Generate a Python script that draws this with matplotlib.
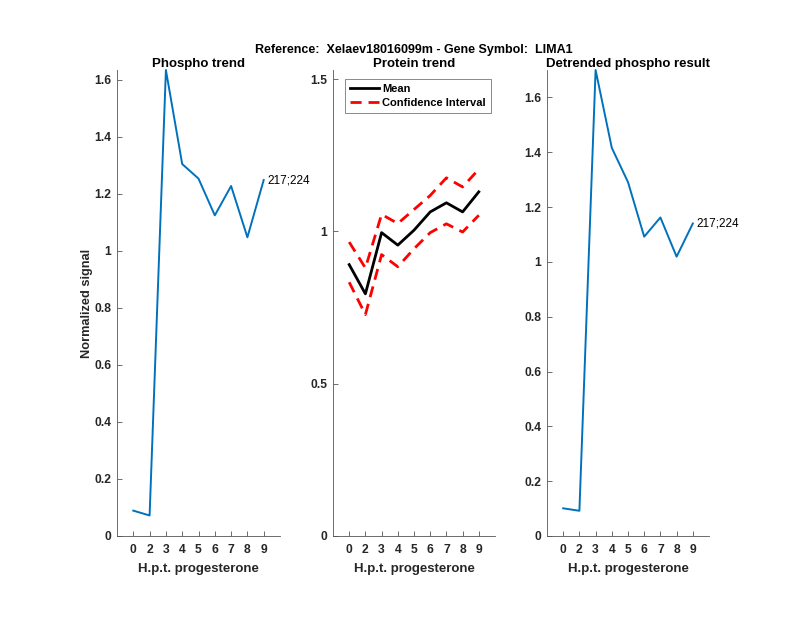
import matplotlib
matplotlib.use("Agg")
import matplotlib.pyplot as plt
import numpy as np

plt.rcParams['font.family'] = ['Liberation Sans', 'DejaVu Sans']

tick_labels = ['0', '2', '3', '4', '5', '6', '7', '8', '9']
phospho = [0.089, 0.072, 1.635, 1.305, 1.254, 1.125, 1.228, 1.048, 1.249]
protein_mean = [0.891, 0.795, 0.996, 0.955, 1.004, 1.064, 1.094, 1.064, 1.130]
protein_upper = [0.965, 0.880, 1.056, 1.026, 1.072, 1.118, 1.176, 1.146, 1.204]
protein_lower = [0.833, 0.727, 0.924, 0.884, 0.943, 0.996, 1.025, 0.998, 1.053]
detrended = [0.101, 0.092, 1.700, 1.416, 1.291, 1.092, 1.162, 1.019, 1.140]
site_label = '217;224'

blue = '#0072BD'
axc = '#262626'
spc = '#555555'

fig = plt.figure(figsize=(8, 6.18), dpi=100)
W, H = 800, 618
def ax_at(left, top=70, bottom=536, width=163):
    return fig.add_axes([left / W, (H - bottom) / H, width / W, (bottom - top) / H])

x = np.arange(1, len(tick_labels) + 1)

def style(ax, ylim, yticks, yticklabels):
    ax.set_xlim(0, 10)
    ax.set_ylim(*ylim)
    ax.set_xticks(x)
    ax.set_xticklabels(tick_labels)
    ax.set_yticks(yticks)
    ax.set_yticklabels(yticklabels)
    for s in ['top', 'right']:
        ax.spines[s].set_visible(False)
    for s in ['left', 'bottom']:
        ax.spines[s].set_color(spc)
        ax.spines[s].set_linewidth(0.6)
    ax.tick_params(direction='in', length=3.5, width=0.6, color=spc, labelcolor=axc,
                   labelsize=8.7, pad=4)
    ax.tick_params(axis='x', pad=6)
    for lab in ax.get_xticklabels() + ax.get_yticklabels():
        lab.set_fontweight('bold')
    ax.set_xlabel('H.p.t. progesterone', fontsize=9.5, fontweight='bold', color=axc, labelpad=5)

# Panel 1
ax1 = ax_at(117)
ax1.plot(x, phospho, color=blue, lw=1.4, clip_on=False)
style(ax1, (0, 1.635), [0, 0.2, 0.4, 0.6, 0.8, 1.0, 1.2, 1.4, 1.6],
      ['0', '0.2', '0.4', '0.6', '0.8', '1', '1.2', '1.4', '1.6'])
ax1.set_title('Phospho trend', fontsize=9.5, fontweight='bold', pad=2.5)
ax1.set_ylabel('Normalized signal', fontsize=9.2, fontweight='bold', color=axc, labelpad=1)
ax1.text(x[-1] + 0.25, phospho[-1], site_label, fontsize=8.5, va='center', ha='left')

# Panel 2
ax2 = ax_at(333, width=162)
ax2.plot(x, protein_mean, color='black', lw=2, label='Mean')
ax2.plot(x, protein_upper, color='red', lw=2, ls=(0, (4, 2.5)), label='Confidence Interval')
ax2.plot(x, protein_lower, color='red', lw=2, ls=(0, (4, 2.5)))
style(ax2, (0, 1.53), [0, 0.5, 1.0, 1.5], ['0', '0.5', '1', '1.5'])
ax2.set_title('Protein trend', fontsize=9.5, fontweight='bold', pad=2.5)
leg = ax2.legend(loc='upper left', bbox_to_anchor=(0.075, 0.98), prop={'weight': 'bold', 'size': 8},
                 frameon=True, fancybox=False, handlelength=2.6, borderpad=0.45,
                 labelspacing=0.35, handletextpad=0.3, borderaxespad=0)
leg.get_frame().set_edgecolor(spc)
leg.get_frame().set_linewidth(0.6)

# Panel 3
ax3 = ax_at(547, width=162)
ax3.plot(x, detrended, color=blue, lw=1.4, clip_on=False)
style(ax3, (0, 1.70), [0, 0.2, 0.4, 0.6, 0.8, 1.0, 1.2, 1.4, 1.6],
      ['0', '0.2', '0.4', '0.6', '0.8', '1', '1.2', '1.4', '1.6'])
ax3.set_title('Detrended phospho result', fontsize=9.5, fontweight='bold', pad=2.5)
ax3.text(x[-1] + 0.25, detrended[-1], site_label, fontsize=8.5, va='center', ha='left')

fig.text(414 / W, 1 - 50 / H, 'Reference:  Xelaev18016099m - Gene Symbol:  LIMA1',
         ha='center', va='center', fontsize=9, fontweight='bold')

fig.savefig('out.png', dpi=100)
